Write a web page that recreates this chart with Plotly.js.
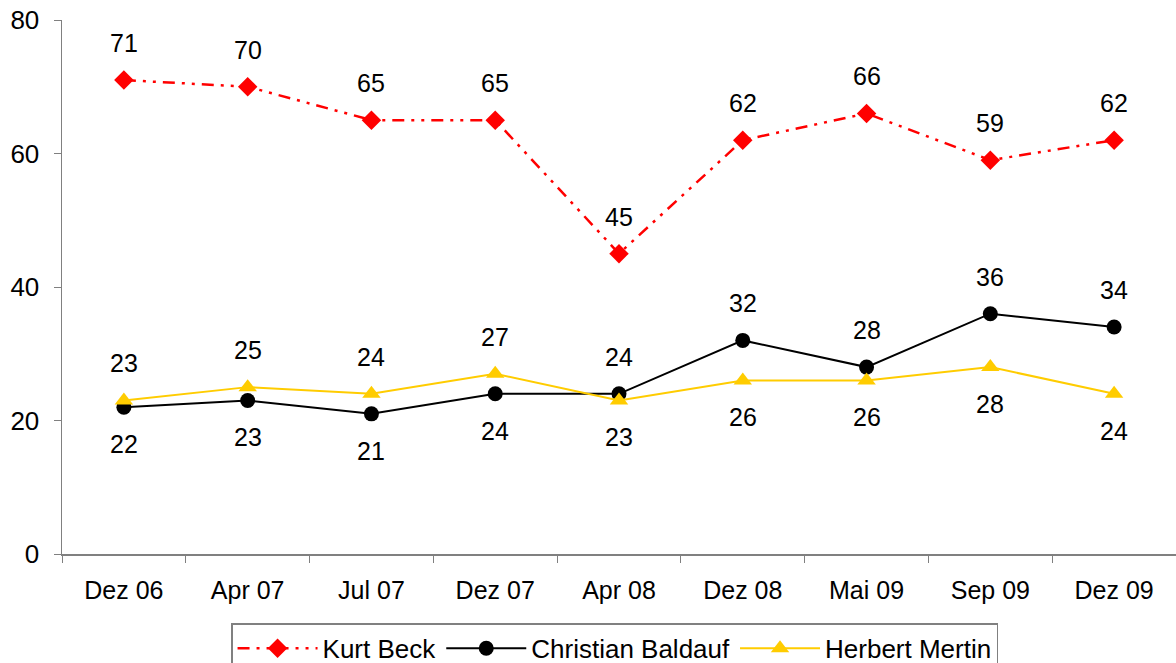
<!DOCTYPE html>
<html><head><meta charset="utf-8">
<script src="https://cdn.plot.ly/plotly-3.0.1.min.js"></script>
<style>html,body{margin:0;padding:0;background:#fff}#chart{width:1176px;height:663px}</style>
</head><body><div id="chart"></div>
<script>
const categories = ["Dez 06","Apr 07","Jul 07","Dez 07","Apr 08","Dez 08","Mai 09","Sep 09","Dez 09"];
const kurtBeck = [71,70,65,65,45,62,66,59,62];
const christianBaldauf = [22,23,21,24,24,32,28,36,34];
const herbertMertin = [23,25,24,27,23,26,26,28,24];
// label placement: 1 = above, -1 = below
const beckLabelSide = [1,1,1,1,1,1,1,1,1];
const baldaufLabelSide = [-1,-1,-1,-1,1,1,1,1,1];
const mertinLabelSide = [1,1,1,1,-1,-1,-1,-1,-1];

const FONT = "Liberation Sans, Arial, sans-serif";
const FS = 26;
const traces = [
  {x: categories, y: kurtBeck, name: "Kurt Beck", mode: "lines+markers",
   line: {color: "#FF0000", width: 2.5, dash: "12px,7px,3px,7px,3px,7px"},
   marker: {symbol: "diamond", size: 15, color: "#FF0000"}},
  {x: categories, y: christianBaldauf, name: "Christian Baldauf", mode: "lines+markers",
   line: {color: "#000000", width: 2},
   marker: {symbol: "circle", size: 15, color: "#000000"}},
  {x: categories, y: herbertMertin, name: "Herbert Mertin", mode: "lines+markers",
   line: {color: "#FFCC00", width: 2},
   marker: {symbol: "triangle-up", size: 16, color: "#FFCC00"}}
];

const annotations = [];
function addLabels(vals, sides) {
  vals.forEach((v, i) => annotations.push({
    x: categories[i], y: v, text: String(v), showarrow: false,
    yshift: sides[i] * 37, font: {family: FONT, size: 25, color: "#000"}
  }));
}
addLabels(kurtBeck, beckLabelSide);
addLabels(christianBaldauf, baldaufLabelSide);
addLabels(herbertMertin, mertinLabelSide);

const layout = {
  width: 1176, height: 663,
  margin: {l: 62, r: 0, t: 20, b: 109, autoexpand: false},
  paper_bgcolor: "#fff", plot_bgcolor: "#fff",
  font: {family: FONT, size: FS, color: "#000"},
  showlegend: true,
  legend: {orientation: "h", x: 0.496, xanchor: "center", y: -0.13, yanchor: "top",
           bordercolor: "#808080", borderwidth: 1.5, font: {family: FONT, size: FS},
           itemwidth: 80, tracegroupgap: 0},
  xaxis: {type: "category", range: [-0.5, 8.5], showline: true, linecolor: "#808080", linewidth: 1.5,
          ticks: "outside", tickson: "boundaries", ticklen: 7, tickcolor: "#808080",
          ticklabelstandoff: 13,
          showgrid: false, zeroline: false, tickfont: {family: FONT, size: 25}, fixedrange: true},
  yaxis: {range: [0, 80], dtick: 20, showline: true, linecolor: "#808080", linewidth: 1.5,
          ticks: "outside", ticklen: 7, tickcolor: "#808080", showgrid: false, zeroline: false,
          ticklabelstandoff: 9,
          tickfont: {family: FONT, size: 26}, fixedrange: true},
  annotations: annotations
};
Plotly.newPlot("chart", traces, layout, {displayModeBar: false, staticPlot: true});
</script></body></html>
